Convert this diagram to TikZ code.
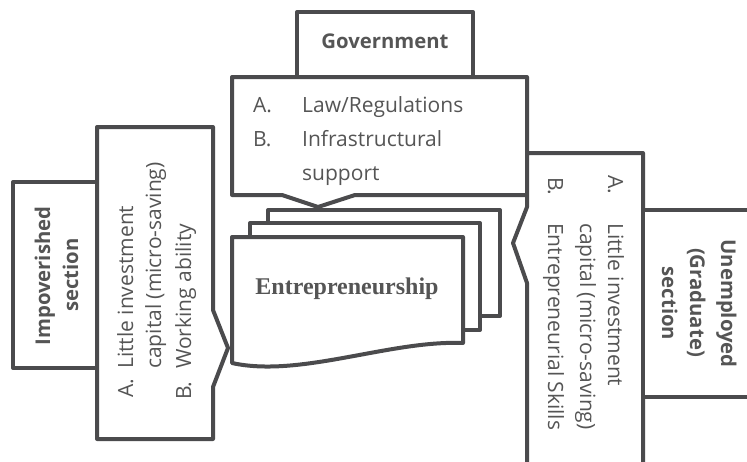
\documentclass[tikz,border=0pt]{standalone}
\usepackage{fontspec}
\setmainfont{Open Sans}
\newfontfamily\serifb{Liberation Serif}
\definecolor{ln}{RGB}{75,75,77}
\definecolor{tx}{RGB}{85,85,85}
\tikzset{
  shp/.style={draw=ln, line width=4pt, fill=white, line join=round},
  lbl/.style={inner sep=0pt, text=tx, font=\fontsize{21}{25}\selectfont},
  blbl/.style={inner sep=0pt, text=tx, font=\fontsize{20.3}{24}\selectfont\bfseries},
  ebl/.style={inner sep=0pt, text=tx, font=\serifb\fontsize{24}{28}\selectfont\bfseries},
}
\begin{document}
\begin{tikzpicture}[x=1pt,y=-1pt]
\useasboundingbox (0,0) rectangle (747,461);
\clip (0,0) rectangle (747,461);
\fill[white] (0,0) rectangle (747,461);

% Government box and its callout
\draw[shp] (297,12) rectangle (473,77);
\draw[shp] (232,77) -- (527,77) -- (527,195) -- (355,195) -- (318,207) -- (282,195) -- (232,195) -- cycle;
\node[blbl, anchor=base] (gov) at (385,48) {Government};
\node[lbl, anchor=base west] (ga) at (253,112) {A.};
\node[lbl, anchor=base west] (gat) at (302,112) {Law/Regulations};
\node[lbl, anchor=base west] (gb) at (253,146) {B.};
\node[lbl, anchor=base west] (gbt) at (302,146) {Infrastructural};
\node[lbl, anchor=base west] (gbt2) at (302,180) {support};

% Entrepreneurship stacked documents
\draw[shp] (268,210) rectangle (500,316);
\draw[shp] (250,223) rectangle (480,330);
\draw[shp] (232,237) -- (463,237) -- (463,343) .. controls (390,340) and (300,378) .. (232,363) -- cycle;
\node[ebl, anchor=base] (ent) at (347,294) {Entrepreneurship};

% Impoverished section and its callout
\draw[shp] (13,182) rectangle (97,368);
\draw[shp] (97,127) -- (213,127) -- (213,310) -- (228,348) -- (213,387) -- (213,439) -- (97,439) -- cycle;
\node[blbl, anchor=base, rotate=90] (imp1) at (50,276) {Impoverished};
\node[blbl, anchor=base, rotate=90] (imp2) at (78,275) {section};
\node[lbl, anchor=base west, rotate=90] (la) at (133,398) {A.};
\node[lbl, anchor=base west, rotate=90] (lat) at (133,369) {Little investment};
\node[lbl, anchor=base west, rotate=90] (lat2) at (161,369) {capital (micro-saving)};
\node[lbl, anchor=base west, rotate=90] (lb) at (191,400) {B.};
\node[lbl, anchor=base west, rotate=90] (lbt) at (191,369) {Working ability};

% Unemployed section and its callout
\draw[shp] (527,153) -- (643,153) -- (643,475) -- (527,475) -- (527,283) -- (513,243) -- (527,207) -- cycle;
\draw[shp] (643,210) rectangle (760,397);
\node[blbl, anchor=base, rotate=-90] (un1) at (721,303.5) {Unemployed};
\node[blbl, anchor=base, rotate=-90] (un2) at (690,302.5) {(Graduate)};
\node[blbl, anchor=base, rotate=-90] (un3) at (662,303.5) {section};
\node[lbl, anchor=base west, rotate=-90] (ra) at (608,175) {A.};
\node[lbl, anchor=base west, rotate=-90] (rat) at (608,223) {Little investment};
\node[lbl, anchor=base west, rotate=-90] (rat2) at (580,223) {capital (micro-saving)};
\node[lbl, anchor=base west, rotate=-90] (rb) at (548,177) {B.};
\node[lbl, anchor=base west, rotate=-90] (rbt) at (548,223) {Entrepreneurial Skills};
\end{tikzpicture}
\end{document}
